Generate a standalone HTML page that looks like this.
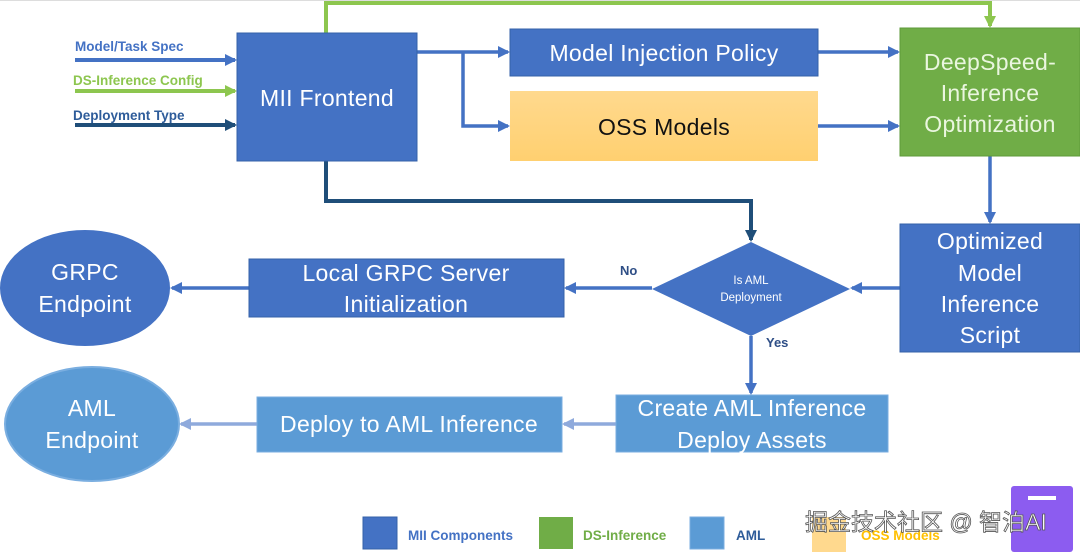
<!DOCTYPE html>
<html><head><meta charset="utf-8"><style>
html,body{margin:0;padding:0;background:#fff;}
svg{display:block;}
.t{font-family:"Liberation Sans","DejaVu Sans",sans-serif;fill:#fff;text-anchor:middle;font-size:23px;letter-spacing:0.3px;}
.l{font-family:"Liberation Sans",sans-serif;font-weight:bold;font-size:13.5px;}
</style></head><body>
<svg width="1080" height="552" viewBox="0 0 1080 552" xmlns="http://www.w3.org/2000/svg">
<defs>
<marker id="ab" markerWidth="12" markerHeight="12" refX="10" refY="6" orient="auto" markerUnits="userSpaceOnUse"><path d="M0,0 L12,6 L0,12 z" fill="#4472C4"/></marker>
<marker id="ag" markerWidth="12" markerHeight="12" refX="10" refY="6" orient="auto" markerUnits="userSpaceOnUse"><path d="M0,0 L12,6 L0,12 z" fill="#8DC64F"/></marker>
<marker id="ad" markerWidth="12" markerHeight="12" refX="10" refY="6" orient="auto" markerUnits="userSpaceOnUse"><path d="M0,0 L12,6 L0,12 z" fill="#1F4E79"/></marker>
<marker id="al" markerWidth="12" markerHeight="12" refX="10" refY="6" orient="auto" markerUnits="userSpaceOnUse"><path d="M0,0 L12,6 L0,12 z" fill="#8FAADC"/></marker>
<linearGradient id="og" x1="0" y1="0" x2="0" y2="1"><stop offset="0" stop-color="#FFD98E"/><stop offset="1" stop-color="#FFD070"/></linearGradient>
</defs>
<line x1="0" y1="0.5" x2="1080" y2="0.5" stroke="#ddd"/>
<line x1="75" y1="60" x2="235" y2="60" stroke="#4472C4" stroke-width="4" marker-end="url(#ab)"/>
<line x1="75" y1="91" x2="235" y2="91" stroke="#8DC64F" stroke-width="4" marker-end="url(#ag)"/>
<line x1="75" y1="125" x2="235" y2="125" stroke="#1F4E79" stroke-width="4" marker-end="url(#ad)"/>
<text x="75" y="51" class="l" fill="#4472C4">Model/Task Spec</text>
<text x="73" y="85" class="l" fill="#8DC64F">DS-Inference Config</text>
<text x="73" y="120" class="l" fill="#2E5C9A">Deployment Type</text>
<polyline points="326,33 326,3 990,3 990,26" fill="none" stroke="#8DC64F" stroke-width="4" marker-end="url(#ag)"/>
<polyline points="326,161 326,201 751,201 751,240" fill="none" stroke="#1F4E79" stroke-width="4" marker-end="url(#ad)"/>
<polyline points="417,52 508,52" fill="none" stroke="#4472C4" stroke-width="3.5" marker-end="url(#ab)"/>
<polyline points="463,52 463,126 508,126" fill="none" stroke="#4472C4" stroke-width="3.5" marker-end="url(#ab)"/>
<line x1="818" y1="52" x2="898" y2="52" stroke="#4472C4" stroke-width="3.5" marker-end="url(#ab)"/>
<line x1="818" y1="126" x2="898" y2="126" stroke="#4472C4" stroke-width="3.5" marker-end="url(#ab)"/>
<line x1="990" y1="156" x2="990" y2="222" stroke="#4472C4" stroke-width="3.5" marker-end="url(#ab)"/>
<line x1="900" y1="288" x2="852" y2="288" stroke="#4472C4" stroke-width="3.5" marker-end="url(#ab)"/>
<line x1="652" y1="288" x2="566" y2="288" stroke="#4472C4" stroke-width="3.5" marker-end="url(#ab)"/>
<line x1="249" y1="288" x2="172" y2="288" stroke="#4472C4" stroke-width="3.5" marker-end="url(#ab)"/>
<line x1="751" y1="336" x2="751" y2="393" stroke="#4472C4" stroke-width="3.5" marker-end="url(#ab)"/>
<line x1="616" y1="424" x2="564" y2="424" stroke="#8FAADC" stroke-width="3.5" marker-end="url(#al)"/>
<line x1="257" y1="424" x2="181" y2="424" stroke="#8FAADC" stroke-width="3.5" marker-end="url(#al)"/>
<rect x="237" y="33" width="180" height="128" fill="#4472C4" stroke="#3461A8"/>
<text x="327" y="106" class="t">MII Frontend</text>
<rect x="510" y="29" width="308" height="47" fill="#4472C4" stroke="#3461A8"/>
<text x="664" y="61" class="t">Model Injection Policy</text>
<rect x="510" y="91" width="308" height="70" fill="url(#og)"/>
<text x="664" y="135" class="t" style="fill:#111">OSS Models</text>
<rect x="900" y="28" width="180" height="128" fill="#70AD47" stroke="#5E9A3A"/>
<text x="990" y="70" class="t" style="fill:#EAF6DF">DeepSpeed-</text>
<text x="990" y="101" class="t" style="fill:#EAF6DF">Inference</text>
<text x="990" y="132" class="t" style="fill:#EAF6DF">Optimization</text>
<rect x="900" y="224" width="180" height="128" fill="#4472C4" stroke="#3461A8"/>
<text x="990" y="249" class="t">Optimized</text>
<text x="990" y="281" class="t">Model</text>
<text x="990" y="312" class="t">Inference</text>
<text x="990" y="343" class="t">Script</text>
<polygon points="751,242 850,289 751,336 652,289" fill="#4472C4"/>
<text x="751" y="284" class="t" style="font-size:11.5px;letter-spacing:0">Is AML</text>
<text x="751" y="301" class="t" style="font-size:11.5px;letter-spacing:0">Deployment</text>
<text x="620" y="275" class="l" fill="#2E4E86" style="font-size:13px">No</text>
<text x="766" y="347" class="l" fill="#2E4E86" style="font-size:13px">Yes</text>
<rect x="249" y="259" width="315" height="58" fill="#4472C4" stroke="#3461A8"/>
<text x="406" y="281" class="t">Local GRPC Server</text>
<text x="406" y="312" class="t">Initialization</text>
<ellipse cx="85" cy="288" rx="85" ry="58" fill="#4472C4"/>
<text x="85" y="280" class="t">GRPC</text>
<text x="85" y="312" class="t">Endpoint</text>
<rect x="616" y="395" width="272" height="57" fill="#5B9BD5" stroke="#7AAEE0"/>
<text x="752" y="416" class="t">Create AML Inference</text>
<text x="752" y="448" class="t">Deploy Assets</text>
<rect x="257" y="397" width="305" height="55" fill="#5B9BD5" stroke="#7AAEE0"/>
<text x="409" y="432" class="t">Deploy to AML Inference</text>
<ellipse cx="92" cy="424" rx="87" ry="57" fill="#5B9BD5" stroke="#7AAEE0" stroke-width="2"/>
<text x="92" y="416" class="t">AML</text>
<text x="92" y="448" class="t">Endpoint</text>
<rect x="363" y="517" width="34" height="32" fill="#4472C4" stroke="#3461A8"/>
<text x="408" y="540" class="l" fill="#4472C4">MII Components</text>
<rect x="539" y="517" width="34" height="32" fill="#70AD47"/>
<text x="583" y="540" class="l" fill="#70AD47">DS-Inference</text>
<rect x="690" y="517" width="34" height="32" fill="#5B9BD5" stroke="#7AAEE0"/>
<text x="736" y="540" class="l" fill="#2E5C9A">AML</text>
<rect x="812" y="517" width="34" height="35" fill="#FFD98E"/>
<text x="861" y="540" class="l" fill="#FFC000">OSS Models</text>
<rect x="1011" y="486" width="62" height="66" rx="3" fill="#8C5CF0"/>
<rect x="1028" y="496" width="28" height="4" fill="#fff"/>
<text x="805" y="530" font-family="'Liberation Sans','Noto Sans CJK SC',sans-serif" font-size="23" fill="#fff" stroke="#555" stroke-width="0.8">掘金技术社区 @ 智泊AI</text>
</svg>
</body></html>
